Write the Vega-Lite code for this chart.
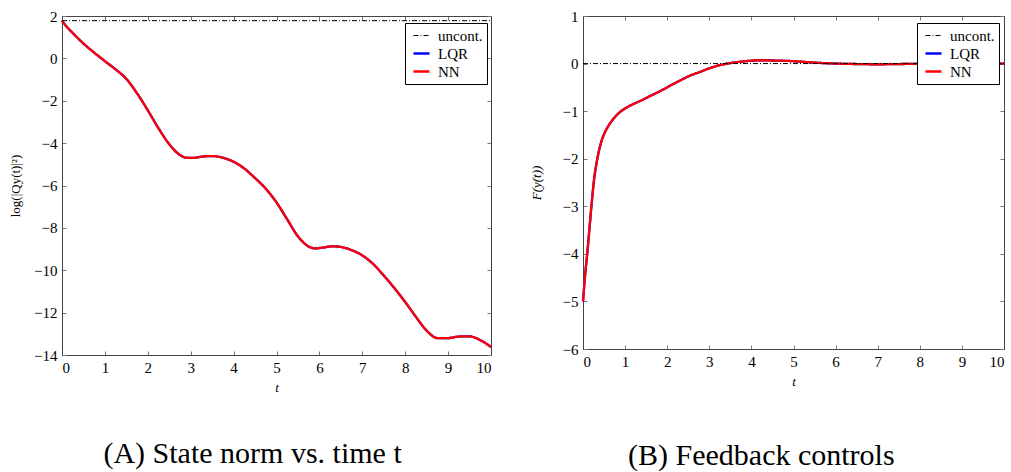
{
  "$schema": "https://vega.github.io/schema/vega-lite/v6.json",
  "background": "white",
  "padding": {"left": 9, "top": 9, "right": 2, "bottom": 2},
  "spacing": 34,
  "datasets": {
    "L": [
      {"t": 0, "v": 1.78, "s": "uncont."}, {"t": 10, "v": 1.78, "s": "uncont."},
      {"t": 0, "v": 1.78, "s": "LQR"}, {"t": 0.1, "v": 1.52, "s": "LQR"}, {"t": 0.25, "v": 1.2, "s": "LQR"}, {"t": 0.5, "v": 0.7, "s": "LQR"}, {"t": 0.75, "v": 0.27, "s": "LQR"}, {"t": 1.0, "v": -0.13, "s": "LQR"}, {"t": 1.25, "v": -0.52, "s": "LQR"}, {"t": 1.5, "v": -0.97, "s": "LQR"}, {"t": 1.75, "v": -1.65, "s": "LQR"}, {"t": 2.0, "v": -2.45, "s": "LQR"}, {"t": 2.25, "v": -3.3, "s": "LQR"}, {"t": 2.5, "v": -4.05, "s": "LQR"}, {"t": 2.75, "v": -4.56, "s": "LQR"}, {"t": 2.9, "v": -4.69, "s": "LQR"}, {"t": 3.05, "v": -4.7, "s": "LQR"}, {"t": 3.25, "v": -4.64, "s": "LQR"}, {"t": 3.5, "v": -4.61, "s": "LQR"}, {"t": 3.75, "v": -4.69, "s": "LQR"}, {"t": 4.0, "v": -4.88, "s": "LQR"}, {"t": 4.25, "v": -5.2, "s": "LQR"}, {"t": 4.5, "v": -5.65, "s": "LQR"}, {"t": 4.75, "v": -6.15, "s": "LQR"}, {"t": 5.0, "v": -6.8, "s": "LQR"}, {"t": 5.25, "v": -7.6, "s": "LQR"}, {"t": 5.5, "v": -8.4, "s": "LQR"}, {"t": 5.75, "v": -8.88, "s": "LQR"}, {"t": 5.9, "v": -8.97, "s": "LQR"}, {"t": 6.05, "v": -8.94, "s": "LQR"}, {"t": 6.3, "v": -8.87, "s": "LQR"}, {"t": 6.5, "v": -8.9, "s": "LQR"}, {"t": 6.75, "v": -9.05, "s": "LQR"}, {"t": 7.0, "v": -9.3, "s": "LQR"}, {"t": 7.25, "v": -9.7, "s": "LQR"}, {"t": 7.5, "v": -10.25, "s": "LQR"}, {"t": 7.75, "v": -10.85, "s": "LQR"}, {"t": 8.0, "v": -11.5, "s": "LQR"}, {"t": 8.25, "v": -12.2, "s": "LQR"}, {"t": 8.5, "v": -12.85, "s": "LQR"}, {"t": 8.75, "v": -13.2, "s": "LQR"}, {"t": 9.0, "v": -13.2, "s": "LQR"}, {"t": 9.25, "v": -13.13, "s": "LQR"}, {"t": 9.5, "v": -13.12, "s": "LQR"}, {"t": 9.75, "v": -13.3, "s": "LQR"}, {"t": 10.0, "v": -13.62, "s": "LQR"},
      {"t": 0, "v": 1.78, "s": "NN"}, {"t": 0.1, "v": 1.52, "s": "NN"}, {"t": 0.25, "v": 1.2, "s": "NN"}, {"t": 0.5, "v": 0.7, "s": "NN"}, {"t": 0.75, "v": 0.27, "s": "NN"}, {"t": 1.0, "v": -0.13, "s": "NN"}, {"t": 1.25, "v": -0.52, "s": "NN"}, {"t": 1.5, "v": -0.97, "s": "NN"}, {"t": 1.75, "v": -1.65, "s": "NN"}, {"t": 2.0, "v": -2.45, "s": "NN"}, {"t": 2.25, "v": -3.3, "s": "NN"}, {"t": 2.5, "v": -4.05, "s": "NN"}, {"t": 2.75, "v": -4.56, "s": "NN"}, {"t": 2.9, "v": -4.69, "s": "NN"}, {"t": 3.05, "v": -4.7, "s": "NN"}, {"t": 3.25, "v": -4.64, "s": "NN"}, {"t": 3.5, "v": -4.61, "s": "NN"}, {"t": 3.75, "v": -4.69, "s": "NN"}, {"t": 4.0, "v": -4.88, "s": "NN"}, {"t": 4.25, "v": -5.2, "s": "NN"}, {"t": 4.5, "v": -5.65, "s": "NN"}, {"t": 4.75, "v": -6.15, "s": "NN"}, {"t": 5.0, "v": -6.8, "s": "NN"}, {"t": 5.25, "v": -7.6, "s": "NN"}, {"t": 5.5, "v": -8.4, "s": "NN"}, {"t": 5.75, "v": -8.88, "s": "NN"}, {"t": 5.9, "v": -8.97, "s": "NN"}, {"t": 6.05, "v": -8.94, "s": "NN"}, {"t": 6.3, "v": -8.87, "s": "NN"}, {"t": 6.5, "v": -8.9, "s": "NN"}, {"t": 6.75, "v": -9.05, "s": "NN"}, {"t": 7.0, "v": -9.3, "s": "NN"}, {"t": 7.25, "v": -9.7, "s": "NN"}, {"t": 7.5, "v": -10.25, "s": "NN"}, {"t": 7.75, "v": -10.85, "s": "NN"}, {"t": 8.0, "v": -11.5, "s": "NN"}, {"t": 8.25, "v": -12.2, "s": "NN"}, {"t": 8.5, "v": -12.85, "s": "NN"}, {"t": 8.75, "v": -13.2, "s": "NN"}, {"t": 9.0, "v": -13.2, "s": "NN"}, {"t": 9.25, "v": -13.13, "s": "NN"}, {"t": 9.5, "v": -13.12, "s": "NN"}, {"t": 9.75, "v": -13.3, "s": "NN"}, {"t": 10.0, "v": -13.62, "s": "NN"}
    ],
    "R": [
      {"t": 0, "v": 0, "s": "uncont."}, {"t": 10, "v": 0, "s": "uncont."},
      {"t": 0, "v": -5.0, "s": "LQR"}, {"t": 0.05, "v": -4.45, "s": "LQR"}, {"t": 0.1, "v": -4.0, "s": "LQR"}, {"t": 0.15, "v": -3.5, "s": "LQR"}, {"t": 0.2, "v": -3.0, "s": "LQR"}, {"t": 0.26, "v": -2.46, "s": "LQR"}, {"t": 0.32, "v": -2.1, "s": "LQR"}, {"t": 0.38, "v": -1.83, "s": "LQR"}, {"t": 0.45, "v": -1.6, "s": "LQR"}, {"t": 0.54, "v": -1.41, "s": "LQR"}, {"t": 0.64, "v": -1.26, "s": "LQR"}, {"t": 0.74, "v": -1.145, "s": "LQR"}, {"t": 0.85, "v": -1.04, "s": "LQR"}, {"t": 0.97, "v": -0.96, "s": "LQR"}, {"t": 1.15, "v": -0.87, "s": "LQR"}, {"t": 1.37, "v": -0.78, "s": "LQR"}, {"t": 1.6, "v": -0.68, "s": "LQR"}, {"t": 1.85, "v": -0.57, "s": "LQR"}, {"t": 2.1, "v": -0.45, "s": "LQR"}, {"t": 2.32, "v": -0.35, "s": "LQR"}, {"t": 2.55, "v": -0.25, "s": "LQR"}, {"t": 2.8, "v": -0.17, "s": "LQR"}, {"t": 3.0, "v": -0.1, "s": "LQR"}, {"t": 3.27, "v": -0.03, "s": "LQR"}, {"t": 3.5, "v": 0.01, "s": "LQR"}, {"t": 3.75, "v": 0.04, "s": "LQR"}, {"t": 4.0, "v": 0.06, "s": "LQR"}, {"t": 4.25, "v": 0.07, "s": "LQR"}, {"t": 4.5, "v": 0.065, "s": "LQR"}, {"t": 5.0, "v": 0.05, "s": "LQR"}, {"t": 5.5, "v": 0.02, "s": "LQR"}, {"t": 6.0, "v": 0.0, "s": "LQR"}, {"t": 6.5, "v": -0.01, "s": "LQR"}, {"t": 7.0, "v": -0.015, "s": "LQR"}, {"t": 7.5, "v": -0.01, "s": "LQR"}, {"t": 8.0, "v": -0.005, "s": "LQR"}, {"t": 9.0, "v": 0.0, "s": "LQR"}, {"t": 10.0, "v": 0.0, "s": "LQR"},
      {"t": 0, "v": -5.0, "s": "NN"}, {"t": 0.05, "v": -4.45, "s": "NN"}, {"t": 0.1, "v": -4.0, "s": "NN"}, {"t": 0.15, "v": -3.5, "s": "NN"}, {"t": 0.2, "v": -3.0, "s": "NN"}, {"t": 0.26, "v": -2.46, "s": "NN"}, {"t": 0.32, "v": -2.1, "s": "NN"}, {"t": 0.38, "v": -1.83, "s": "NN"}, {"t": 0.45, "v": -1.6, "s": "NN"}, {"t": 0.54, "v": -1.41, "s": "NN"}, {"t": 0.64, "v": -1.26, "s": "NN"}, {"t": 0.74, "v": -1.145, "s": "NN"}, {"t": 0.85, "v": -1.04, "s": "NN"}, {"t": 0.97, "v": -0.96, "s": "NN"}, {"t": 1.15, "v": -0.87, "s": "NN"}, {"t": 1.37, "v": -0.78, "s": "NN"}, {"t": 1.6, "v": -0.68, "s": "NN"}, {"t": 1.85, "v": -0.57, "s": "NN"}, {"t": 2.1, "v": -0.45, "s": "NN"}, {"t": 2.32, "v": -0.35, "s": "NN"}, {"t": 2.55, "v": -0.25, "s": "NN"}, {"t": 2.8, "v": -0.17, "s": "NN"}, {"t": 3.0, "v": -0.1, "s": "NN"}, {"t": 3.27, "v": -0.03, "s": "NN"}, {"t": 3.5, "v": 0.01, "s": "NN"}, {"t": 3.75, "v": 0.04, "s": "NN"}, {"t": 4.0, "v": 0.06, "s": "NN"}, {"t": 4.25, "v": 0.07, "s": "NN"}, {"t": 4.5, "v": 0.065, "s": "NN"}, {"t": 5.0, "v": 0.05, "s": "NN"}, {"t": 5.5, "v": 0.02, "s": "NN"}, {"t": 6.0, "v": 0.0, "s": "NN"}, {"t": 6.5, "v": -0.01, "s": "NN"}, {"t": 7.0, "v": -0.015, "s": "NN"}, {"t": 7.5, "v": -0.01, "s": "NN"}, {"t": 8.0, "v": -0.005, "s": "NN"}, {"t": 9.0, "v": 0.0, "s": "NN"}, {"t": 10.0, "v": 0.0, "s": "NN"}
    ]
  },
  "hconcat": [
    {
      "width": 429,
      "height": 339,
      "data": {"name": "L"},
      "title": {"text": "(A) State norm vs. time t", "orient": "bottom", "frame": "bounds", "anchor": "middle", "offset": 45, "dx": 0, "fontSize": 30, "font": "Liberation Serif, DejaVu Serif, serif", "fontWeight": "normal", "color": "black"},
      "encoding": {
        "color": {"field": "s", "type": "nominal", "title": null, "scale": {"domain": ["uncont.", "LQR", "NN"], "range": ["black", "#0000ff", "#ff0000"]}, "legend": {"orient": "none", "legendX": 343, "legendY": 7}},
        "strokeDash": {"field": "s", "type": "nominal", "title": null, "scale": {"domain": ["uncont.", "LQR", "NN"], "range": [[5, 2, 1, 2], [1, 0], [1, 0]]}, "legend": {"orient": "none", "legendX": 343, "legendY": 7}},
        "strokeWidth": {"field": "s", "type": "nominal", "title": null, "scale": {"type": "ordinal", "domain": ["uncont.", "LQR", "NN"], "range": [1, 2.3, 2.3]}, "legend": {"orient": "none", "legendX": 343, "legendY": 7}}
      },
      "layer": [
        {
          "transform": [{"filter": "datum.s === 'LQR'"}],
          "mark": {"type": "line", "interpolate": "monotone"},
          "encoding": {
            "x": {"field": "t", "type": "quantitative", "scale": {"domain": [0, 10], "nice": false}, "axis": {"orient": "bottom", "title": "t", "titleFontStyle": "italic", "values": [0, 1, 2, 3, 4, 5, 6, 7, 8, 9, 10], "format": "d"}},
            "y": {"field": "v", "type": "quantitative", "scale": {"domain": [-14, 2], "nice": false}, "axis": {"orient": "left", "title": "log(|Qy(t)|²)", "titlePadding": 11, "values": [-14, -12, -10, -8, -6, -4, -2, 0, 2], "format": "d"}}
          }
        },
        {
          "transform": [{"filter": "datum.s === 'NN'"}],
          "mark": {"type": "line", "interpolate": "monotone"},
          "encoding": {
            "x": {"field": "t", "type": "quantitative", "axis": null},
            "y": {"field": "v", "type": "quantitative", "axis": null}
          }
        },
        {
          "transform": [{"filter": "datum.s === 'uncont.'"}],
          "mark": {"type": "line"},
          "encoding": {
            "x": {"field": "t", "type": "quantitative", "axis": {"orient": "top", "labels": false, "title": null, "values": [0, 1, 2, 3, 4, 5, 6, 7, 8, 9, 10]}},
            "y": {"field": "v", "type": "quantitative", "axis": {"orient": "right", "labels": false, "title": null, "values": [-14, -12, -10, -8, -6, -4, -2, 0, 2]}}
          }
        }
      ]
    },
    {
      "width": 421,
      "height": 333,
      "data": {"name": "R"},
      "title": {"text": "(B) Feedback controls", "orient": "bottom", "frame": "bounds", "anchor": "middle", "offset": 53, "dx": -8, "fontSize": 30, "font": "Liberation Serif, DejaVu Serif, serif", "fontWeight": "normal", "color": "black"},
      "encoding": {
        "color": {"field": "s", "type": "nominal", "title": null, "scale": {"domain": ["uncont.", "LQR", "NN"], "range": ["black", "#0000ff", "#ff0000"]}, "legend": {"orient": "none", "legendX": 334, "legendY": 7}},
        "strokeDash": {"field": "s", "type": "nominal", "title": null, "scale": {"domain": ["uncont.", "LQR", "NN"], "range": [[5, 2, 1, 2], [1, 0], [1, 0]]}, "legend": {"orient": "none", "legendX": 334, "legendY": 7}},
        "strokeWidth": {"field": "s", "type": "nominal", "title": null, "scale": {"type": "ordinal", "domain": ["uncont.", "LQR", "NN"], "range": [1, 2.3, 2.3]}, "legend": {"orient": "none", "legendX": 334, "legendY": 7}}
      },
      "layer": [
        {
          "transform": [{"filter": "datum.s === 'LQR'"}],
          "mark": {"type": "line", "interpolate": "monotone"},
          "encoding": {
            "x": {"field": "t", "type": "quantitative", "scale": {"domain": [0, 10], "nice": false}, "axis": {"orient": "bottom", "title": "t", "titleFontStyle": "italic", "values": [0, 1, 2, 3, 4, 5, 6, 7, 8, 9, 10], "format": "d"}},
            "y": {"field": "v", "type": "quantitative", "scale": {"domain": [-6, 1], "nice": false}, "axis": {"orient": "left", "title": "F(y(t))", "titleFontStyle": "italic", "titlePadding": 19, "values": [-6, -5, -4, -3, -2, -1, 0, 1], "format": "d"}}
          }
        },
        {
          "transform": [{"filter": "datum.s === 'NN'"}],
          "mark": {"type": "line", "interpolate": "monotone"},
          "encoding": {
            "x": {"field": "t", "type": "quantitative", "axis": null},
            "y": {"field": "v", "type": "quantitative", "axis": null}
          }
        },
        {
          "transform": [{"filter": "datum.s === 'uncont.'"}],
          "mark": {"type": "line"},
          "encoding": {
            "x": {"field": "t", "type": "quantitative", "axis": {"orient": "top", "labels": false, "title": null, "values": [0, 1, 2, 3, 4, 5, 6, 7, 8, 9, 10]}},
            "y": {"field": "v", "type": "quantitative", "axis": {"orient": "right", "labels": false, "title": null, "values": [-6, -5, -4, -3, -2, -1, 0, 1]}}
          }
        }
      ]
    }
  ],
  "resolve": {"scale": {"color": "independent", "strokeDash": "independent", "strokeWidth": "independent"}, "legend": {"color": "independent", "strokeDash": "independent", "strokeWidth": "independent"}},
  "config": {
    "font": "Liberation Serif, DejaVu Serif, serif",
    "view": {"stroke": null},
    "axis": {
      "grid": false,
      "domainColor": "#444444",
      "domainWidth": 1,
      "tickColor": "#777777",
      "tickWidth": 1,
      "tickSize": -4,
      "labelPadding": 9,
      "labelFont": "Liberation Serif, DejaVu Serif, serif",
      "labelFontSize": 15,
      "labelColor": "black",
      "titleFont": "Liberation Serif, DejaVu Serif, serif",
      "titleFontSize": 13,
      "titleFontWeight": "normal",
      "titleColor": "black",
      "titlePadding": 6
    },
    "legend": {
      "strokeColor": "black",
      "fillColor": "white",
      "padding": 4,
      "labelFont": "Liberation Serif, DejaVu Serif, serif",
      "labelFontSize": 15,
      "labelColor": "black",
      "labelOffset": 7,
      "symbolOffset": 3,
      "symbolType": "stroke",
      "symbolSize": 256,
      "rowPadding": 0,
      "cornerRadius": 0
    }
  }
}
